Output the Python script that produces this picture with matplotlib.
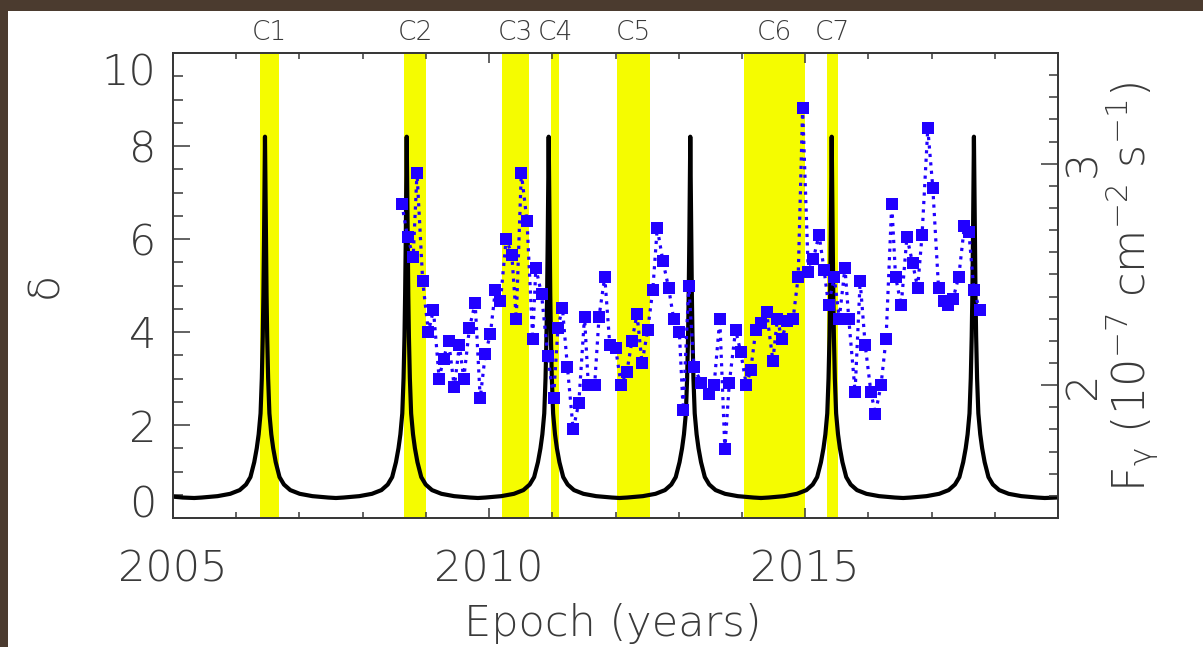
import matplotlib
matplotlib.use("Agg")
import matplotlib.pyplot as plt
from matplotlib.patches import Rectangle
from matplotlib.ticker import MultipleLocator, FixedLocator

# Ejection windows of the VLBI jet components (years)
components = ["C1", "C2", "C3", "C4", "C5", "C6", "C7"]
comp_start = [2006.37, 2008.66, 2010.20, 2010.98, 2012.02, 2014.04, 2015.34]
comp_end = [2006.68, 2009.00, 2010.63, 2011.11, 2012.54, 2014.99, 2015.52]

# Doppler factor of the precessing jet: epochs of maximum and the (symmetric)
# shape of one flare as a function of time from the maximum
peak_epochs = [2006.455, 2008.697, 2010.943, 2013.183, 2015.420, 2017.670]
half_period = 1.12
profile_dt = [0.0, 0.007, 0.015, 0.025, 0.035, 0.05, 0.07, 0.10, 0.13, 0.17,
              0.23, 0.30, 0.40, 0.55, 0.75, 1.00, 1.12, 1.30, 1.46]
profile_delta = [8.2, 7.2, 6.0, 4.8, 3.9, 3.0, 2.25, 1.8, 1.5, 1.2,
                 0.88, 0.72, 0.60, 0.52, 0.47, 0.44, 0.43, 0.44, 0.46]

# Fermi-LAT monthly photon flux (1e-7 ph cm^-2 s^-1)
flux_epoch = [
    2008.62, 2008.71, 2008.80, 2008.86, 2008.95, 2009.04, 2009.12, 2009.21,
    2009.28, 2009.36, 2009.45, 2009.53, 2009.60, 2009.69, 2009.78, 2009.86,
    2009.94, 2010.02, 2010.10, 2010.18, 2010.27, 2010.36, 2010.43, 2010.51,
    2010.60, 2010.69, 2010.74, 2010.83, 2010.93, 2011.02, 2011.09, 2011.16,
    2011.24, 2011.33, 2011.42, 2011.51, 2011.57, 2011.67, 2011.74, 2011.83,
    2011.91, 2012.00, 2012.09, 2012.18, 2012.26, 2012.34, 2012.42, 2012.51,
    2012.59, 2012.66, 2012.75, 2012.84, 2012.92, 2013.01, 2013.07, 2013.16,
    2013.24, 2013.36, 2013.48, 2013.56, 2013.65, 2013.73, 2013.80, 2013.90,
    2013.98, 2014.07, 2014.14, 2014.22, 2014.30, 2014.39, 2014.49, 2014.56,
    2014.63, 2014.72, 2014.81, 2014.89, 2014.96, 2015.05, 2015.13, 2015.22,
    2015.30, 2015.37, 2015.46, 2015.54, 2015.63, 2015.69, 2015.79, 2015.87,
    2015.95, 2016.04, 2016.11, 2016.20, 2016.28, 2016.37, 2016.43, 2016.52,
    2016.61, 2016.70, 2016.78, 2016.85, 2016.94, 2017.02, 2017.11, 2017.19,
    2017.26, 2017.34, 2017.43, 2017.52, 2017.59, 2017.67, 2017.76,
]
flux = [
    2.82, 2.67, 2.58, 2.96, 2.47, 2.24, 2.34, 2.03,
    2.12, 2.20, 1.99, 2.18, 2.03, 2.26, 2.37, 1.94,
    2.14, 2.23, 2.43, 2.38, 2.66, 2.59, 2.30, 2.96,
    2.74, 2.21, 2.53, 2.41, 2.13, 1.94, 2.26, 2.35,
    2.08, 1.80, 1.92, 2.31, 2.00, 2.00, 2.31, 2.49,
    2.18, 2.17, 2.00, 2.06, 2.20, 2.32, 2.10, 2.25,
    2.43, 2.71, 2.56, 2.44, 2.30, 2.24, 1.89, 2.45,
    2.08, 2.01, 1.96, 2.00, 2.30, 1.71, 2.01, 2.25,
    2.15, 2.00, 2.07, 2.25, 2.28, 2.33, 2.11, 2.30,
    2.21, 2.29, 2.30, 2.49, 3.25, 2.51, 2.57, 2.68,
    2.52, 2.36, 2.49, 2.30, 2.53, 2.30, 1.97, 2.47,
    2.18, 1.97, 1.87, 2.00, 2.21, 2.82, 2.49, 2.36,
    2.67, 2.55, 2.44, 2.68, 3.16, 2.89, 2.44, 2.38,
    2.36, 2.39, 2.49, 2.72, 2.69, 2.43, 2.34,
]

x_range = (2005.0, 2019.0)
delta_range = (0.0, 10.0)
flux_range = (1.4, 3.5)

TEXT = "#3a3a3a"
AXIS = "#383838"
YELLOW = "#f5fc00"
BLUE = "#2100ff"
WEIGHT = "light"

plt.rcParams["font.family"] = ["DejaVu Sans"]
plt.rcParams["font.weight"] = WEIGHT
plt.rcParams["mathtext.fontset"] = "custom"
plt.rcParams["mathtext.rm"] = "DejaVu Sans:light"
plt.rcParams["mathtext.it"] = "DejaVu Sans:light"

W, H = 1203, 647
fig = plt.figure(figsize=(W / 100, H / 100), dpi=100, facecolor="#4b3b2f")
fig.add_artist(Rectangle((7.5 / W, 0), 1, 1 - 10.5 / H, transform=fig.transFigure,
                         facecolor="white", edgecolor="none", zorder=-10))

ax = fig.add_axes([173 / W, (H - 518) / H, 885 / W, 465 / H])
ax.set_xlim(*x_range)
ax.set_ylim(*delta_range)

# component windows
for name, t0, t1 in zip(components, comp_start, comp_end):
    ax.axvspan(t0, t1, color=YELLOW, lw=0, zorder=0)
    ax.text((t0 + t1) / 2, 1.017, name, transform=ax.get_xaxis_transform(),
            ha="center", va="bottom", fontsize=19, color=TEXT, fontweight=WEIGHT)

# model Doppler factor, one flare per maximum
model_t, model_d = [], []
for i, tp in enumerate(peak_epochs):
    left_lim = 1.46 if i == 0 else half_period
    right_lim = 1.46 if i == len(peak_epochs) - 1 else half_period
    for dt, d in reversed(list(zip(profile_dt, profile_delta))):
        if dt <= left_lim:
            model_t.append(tp - dt)
            model_d.append(d)
    for dt, d in zip(profile_dt[1:], profile_delta[1:]):
        if dt <= right_lim:
            model_t.append(tp + dt)
            model_d.append(d)
ax.plot(model_t, model_d, color="black", lw=3.0, zorder=2, clip_on=True,
        solid_joinstyle="round")

# axes styling
for sp in ax.spines.values():
    sp.set_color(AXIS)
    sp.set_linewidth(1.3)

ax.xaxis.set_major_locator(FixedLocator([2005, 2010, 2015]))
ax.xaxis.set_minor_locator(MultipleLocator(1))
ax.yaxis.set_major_locator(MultipleLocator(2))
ax.yaxis.set_minor_locator(MultipleLocator(0.5))
ax.tick_params(axis="x", which="both", direction="in", top=True, bottom=True,
               color=AXIS, width=1.1, labelsize=31, labelcolor=TEXT, pad=22)
ax.tick_params(axis="x", which="major", length=7)
ax.tick_params(axis="x", which="minor", length=4)
ax.tick_params(axis="y", which="both", direction="in", left=True, right=False,
               color=AXIS, width=1.1, labelsize=31, labelcolor=TEXT, pad=12)
ax.tick_params(axis="y", which="major", length=12)
ax.tick_params(axis="y", which="minor", length=7)
ax.set_xticklabels(["2005", "2010", "2015"])
ax.set_yticks([0, 2, 4, 6, 8, 10])
ylabels = ax.get_yticklabels()
ylabels[0].set_va("baseline")
ylabels[-1].set_va("top")

# flux on the right-hand axis
ax2 = ax.twinx()
ax2.set_ylim(*flux_range)
ax2.plot(flux_epoch, flux, ls=":", lw=2.3, color=BLUE, zorder=3)
ax2.plot(flux_epoch, flux, ls="none", marker="s", ms=9, color=BLUE,
         markeredgewidth=0, zorder=4)
for sp in ax2.spines.values():
    sp.set_color(AXIS)
    sp.set_linewidth(1.3)
ax2.yaxis.set_major_locator(FixedLocator([2, 3]))
ax2.yaxis.set_minor_locator(MultipleLocator(0.1))
ax2.tick_params(axis="y", which="both", direction="in", color=AXIS, width=1.1,
                labelsize=31, labelcolor=TEXT, pad=3, labelrotation=90)
ax2.tick_params(axis="y", which="major", length=12.5)
ax2.tick_params(axis="y", which="minor", length=6.3)
for lab in ax2.get_yticklabels():
    lab.set_va("center")

fig.text(45 / W, 1 - 285 / H, "δ", rotation=90, ha="center", va="center",
         fontsize=31, color=TEXT, fontweight=WEIGHT)
fig.text(1132 / W, 1 - 287 / H,
         r"F$_\gamma$ (10$^{-7}$ cm$^{-2}$ s$^{-1}$)", rotation=90,
         ha="center", va="center", fontsize=32, color=TEXT, fontweight=WEIGHT)
fig.text(613 / W, 1 - 636 / H, "Epoch (years)", ha="center", va="baseline",
         fontsize=31, color=TEXT, fontweight=WEIGHT)

fig.savefig("out.png", dpi=100, facecolor=fig.get_facecolor())
